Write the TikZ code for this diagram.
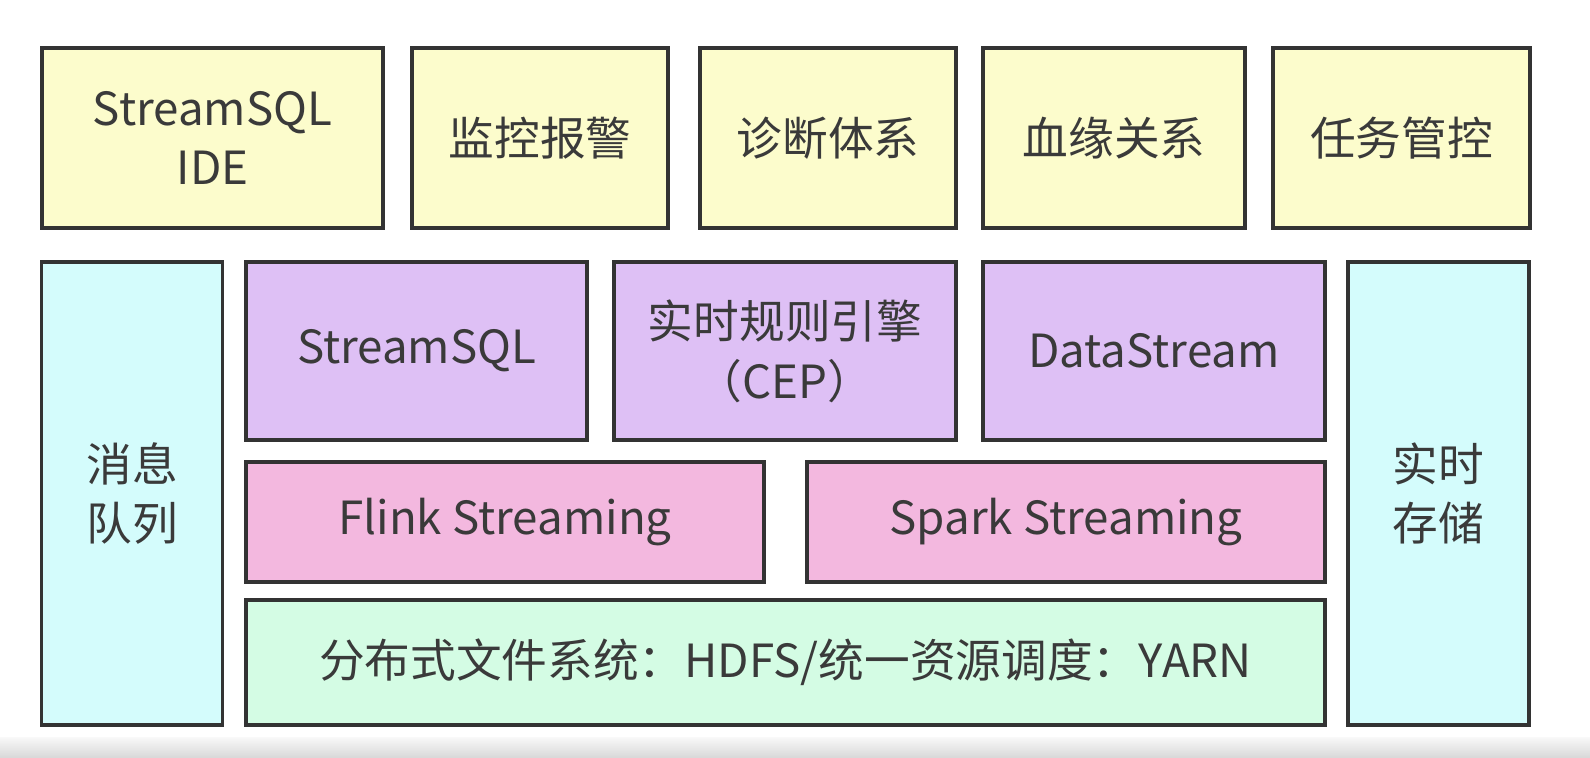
\documentclass[tikz,border=0pt]{standalone}
\usepackage{fontspec}
\usepackage{xcolor}
\usepackage{tikz}
\usetikzlibrary{positioning, calc}
\newfontfamily\cjk{Noto Sans CJK SC}

\definecolor{boxline}{HTML}{333333}
\definecolor{boxtext}{HTML}{3A3A3A}
\definecolor{appyellow}{HTML}{FCFCCC}
\definecolor{sidecyan}{HTML}{D4FCFC}
\definecolor{apipurple}{HTML}{DEC0F5}
\definecolor{enginepink}{HTML}{F3B8DF}
\definecolor{basegreen}{HTML}{D4FCE4}

\begin{document}
\begin{tikzpicture}[
    box/.style={draw=boxline, line width=2.2pt, align=center, text=boxtext, inner sep=0pt,
        font=\cjk\fontsize{26}{34}\selectfont},
    appbox/.style={box, fill=appyellow, minimum height=3.6cm},
    sidebox/.style={box, fill=sidecyan, minimum width=3.62cm, minimum height=9.26cm},
    apibox/.style={box, fill=apipurple, minimum width=6.83cm, minimum height=3.56cm},
    enginebox/.style={box, fill=enginepink, minimum width=10.36cm, minimum height=2.4cm},
    basebox/.style={box, fill=basegreen, minimum width=21.58cm, minimum height=2.5cm}
]
    \useasboundingbox (0,0) rectangle (31.8,-15.14);
    \fill[white] (0,0) rectangle (31.8,-15.14);
    \shade[top color=gray!5, bottom color=gray!30] (0,-14.74) rectangle (31.8,-15.14);

    % top row: tools
    \node[appbox, minimum width=6.82cm] (ide) at (4.25,-2.76) {StreamSQL\\IDE};
    \node[appbox, minimum width=5.12cm] (alarm) at (10.8,-2.76) {监控报警};
    \node[appbox, minimum width=5.12cm] (diag) at (16.56,-2.76) {诊断体系};
    \node[appbox, minimum width=5.24cm] (lineage) at (22.28,-2.76) {血缘关系};
    \node[appbox, minimum width=5.14cm] (task) at (28.03,-2.76) {任务管控};

    % side columns
    \node[sidebox] (mq) at (2.64,-9.87) {消息\\队列};
    \node[sidebox] (store) at (28.77,-9.87) {实时\\存储};

    % APIs
    \node[apibox] (sql) at (8.33,-7.02) {StreamSQL};
    \node[apibox] (cep) at (15.7,-7.02) {实时规则引擎\\（CEP）};
    \node[apibox] (ds) at (23.08,-7.02) {DataStream};

    % engines
    \node[enginebox] (flink) at (10.10,-10.44) {Flink Streaming};
    \node[enginebox] (spark) at (21.32,-10.44) {Spark Streaming};

    % base layer
    \node[basebox] (base) at (15.71,-13.25) {分布式文件系统：HDFS/统一资源调度：YARN};

\end{tikzpicture}
\end{document}
